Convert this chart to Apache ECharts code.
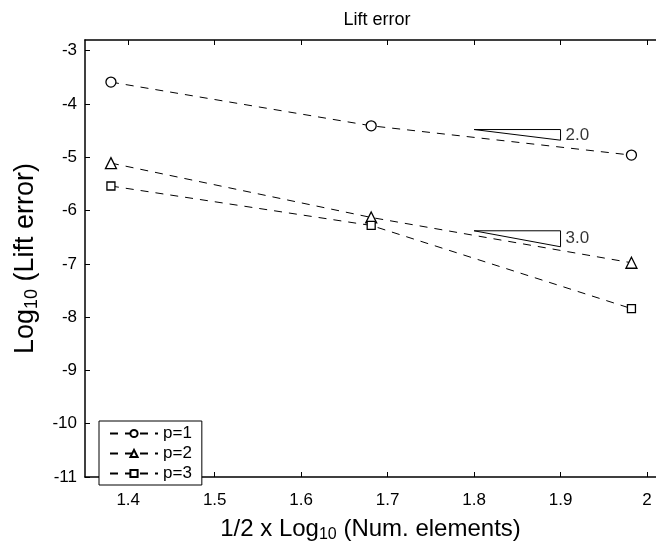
<!DOCTYPE html>
<html>
<head>
<meta charset="utf-8">
<script src="https://cdn.jsdelivr.net/npm/echarts@6/dist/echarts.min.js"></script>
<style>
  html, body { margin: 0; padding: 0; background: #fff; }
  #chart { width: 656px; height: 548px; }
</style>
</head>
<body>
<div id="chart"></div>
<script>
// 1/2 x log10 of the number of elements for each mesh level
const meshLevels = [1.380, 1.681, 1.982];

// log10 of the lift error for each polynomial order
const seriesNames = ['p=1', 'p=2', 'p=3'];
const liftErrP1 = [-3.59, -4.41, -4.96];
const liftErrP2 = [-5.11, -6.13, -6.98];
const liftErrP3 = [-5.54, -6.28, -7.84];
const markers = ['circle', 'triangle', 'rect'];

// reference slope triangles: left x, right x, top y, slope
const slopeTriLeft = [1.8, 1.8];
const slopeTriRight = [1.9, 1.9];
const slopeTriTop = [-4.48, -6.38];
const slopeValues = [2.0, 3.0];

// tick values
const xTicks = [1.4, 1.5, 1.6, 1.7, 1.8, 1.9, 2];
const yTicks = [-11, -10, -9, -8, -7, -6, -5, -4, -3];

const FONT = 'Liberation Sans, Arial, Helvetica, sans-serif';
const chart = echarts.init(document.getElementById('chart'), null, { renderer: 'canvas' });

const values = [liftErrP1, liftErrP2, liftErrP3];
const symbolSizes = [10, 11, 8];

const dataSeries = seriesNames.map((name, i) => ({
  name: name,
  type: 'line',
  data: meshLevels.map((x, j) => [x, values[i][j]]),
  symbol: markers[i],
  symbolSize: symbolSizes[i],
  showAllSymbol: true,
  lineStyle: { color: '#000', width: 1, type: [8, 7] },
  itemStyle: { color: '#fff', borderColor: '#000', borderWidth: 1.3 },
  emphasis: { disabled: true },
  animation: false,
  z: 3
}));

const triSeries = slopeValues.map((s, i) => {
  const bottom = slopeTriTop[i] - s * (slopeTriRight[i] - slopeTriLeft[i]);
  return {
    type: 'line',
    data: [
      [slopeTriLeft[i], slopeTriTop[i]],
      [slopeTriRight[i], slopeTriTop[i]],
      [slopeTriRight[i], bottom],
      [slopeTriLeft[i], slopeTriTop[i]]
    ],
    symbol: 'none',
    lineStyle: { color: '#000', width: 1 },
    emphasis: { disabled: true },
    animation: false,
    silent: true,
    z: 2
  };
});

const triLabels = {
  type: 'scatter',
  data: slopeValues.map((s, i) => {
    const bottom = slopeTriTop[i] - s * (slopeTriRight[i] - slopeTriLeft[i]);
    return { value: [slopeTriRight[i], (slopeTriTop[i] + bottom) / 2], slope: s };
  }),
  symbolSize: 0,
  label: {
    show: true,
    position: 'right',
    distance: 5,
    color: '#000',
    fontFamily: FONT,
    fontSize: 17,
    formatter: p => p.data.slope.toFixed(1)
  },
  silent: true,
  animation: false
};

const option = {
  backgroundColor: '#fff',
  animation: false,
  title: {
    text: 'Lift error',
    left: 372,
    textAlign: 'center',
    top: 6,
    textStyle: { fontFamily: FONT, fontSize: 18, fontWeight: 'normal', color: '#000' }
  },
  grid: { left: 85, right: -2, top: 40, bottom: 56, containLabel: false },
  legend: {
    data: seriesNames,
    orient: 'vertical',
    left: 99,
    top: 421,
    itemWidth: 48,
    itemHeight: 9,
    itemGap: 3,
    padding: [4, 10, 3, 10],
    borderColor: '#000',
    borderWidth: 1,
    backgroundColor: '#fff',
    textStyle: { fontFamily: FONT, fontSize: 17, lineHeight: 17, color: '#000' },
    selectedMode: false
  },
  xAxis: [{
    type: 'value',
    min: 1.35,
    max: 2.0104,
    interval: 0.05,
    position: 'bottom',
    name: '{a|1/2 x Log}{s|10}{a| (Num. elements)}',
    nameLocation: 'middle',
    nameGap: 38,
    nameTextStyle: {
      rich: {
        a: { fontFamily: FONT, fontSize: 24, color: '#000' },
        s: { fontFamily: FONT, fontSize: 16, color: '#000', verticalAlign: 'bottom', padding: [12, 0, 0, 0] }
      }
    },
    axisLine: { show: true, onZero: false, lineStyle: { color: '#000', width: 1.5 } },
    axisTick: { show: true, inside: true, length: 5, customValues: xTicks, lineStyle: { color: '#000' } },
    axisLabel: {
      customValues: xTicks,
      fontFamily: FONT, fontSize: 17, color: '#000', margin: 15,
      formatter: v => String(Math.round(v * 10) / 10)
    },
    splitLine: { show: false }
  }, {
    type: 'value',
    min: 1.35,
    max: 2.0104,
    interval: 0.05,
    position: 'top',
    axisLine: { show: true, onZero: false, lineStyle: { color: '#000', width: 1.5 } },
    axisTick: { show: true, inside: true, length: 5, customValues: xTicks, lineStyle: { color: '#000' } },
    axisLabel: { show: false },
    splitLine: { show: false }
  }],
  yAxis: [{
    type: 'value',
    min: -11,
    max: -2.8,
    interval: 1,
    name: '{a|Log}{s|10}{a| (Lift error)}',
    nameLocation: 'middle',
    nameGap: 44,
    nameRotate: 90,
    nameTextStyle: {
      rich: {
        a: { fontFamily: FONT, fontSize: 27, color: '#000' },
        s: { fontFamily: FONT, fontSize: 18, color: '#000', verticalAlign: 'bottom', padding: [13, 0, 0, 0] }
      }
    },
    axisLine: { show: true, onZero: false, lineStyle: { color: '#000', width: 1.5 } },
    axisTick: { show: true, inside: true, length: 5, customValues: yTicks, lineStyle: { color: '#000' } },
    axisLabel: {
      customValues: yTicks,
      fontFamily: FONT, fontSize: 17, color: '#000', margin: 8,
      formatter: v => String(v)
    },
    splitLine: { show: false }
  }],
  series: [...dataSeries, ...triSeries, triLabels]
};

chart.setOption(option);
</script>
</body>
</html>
